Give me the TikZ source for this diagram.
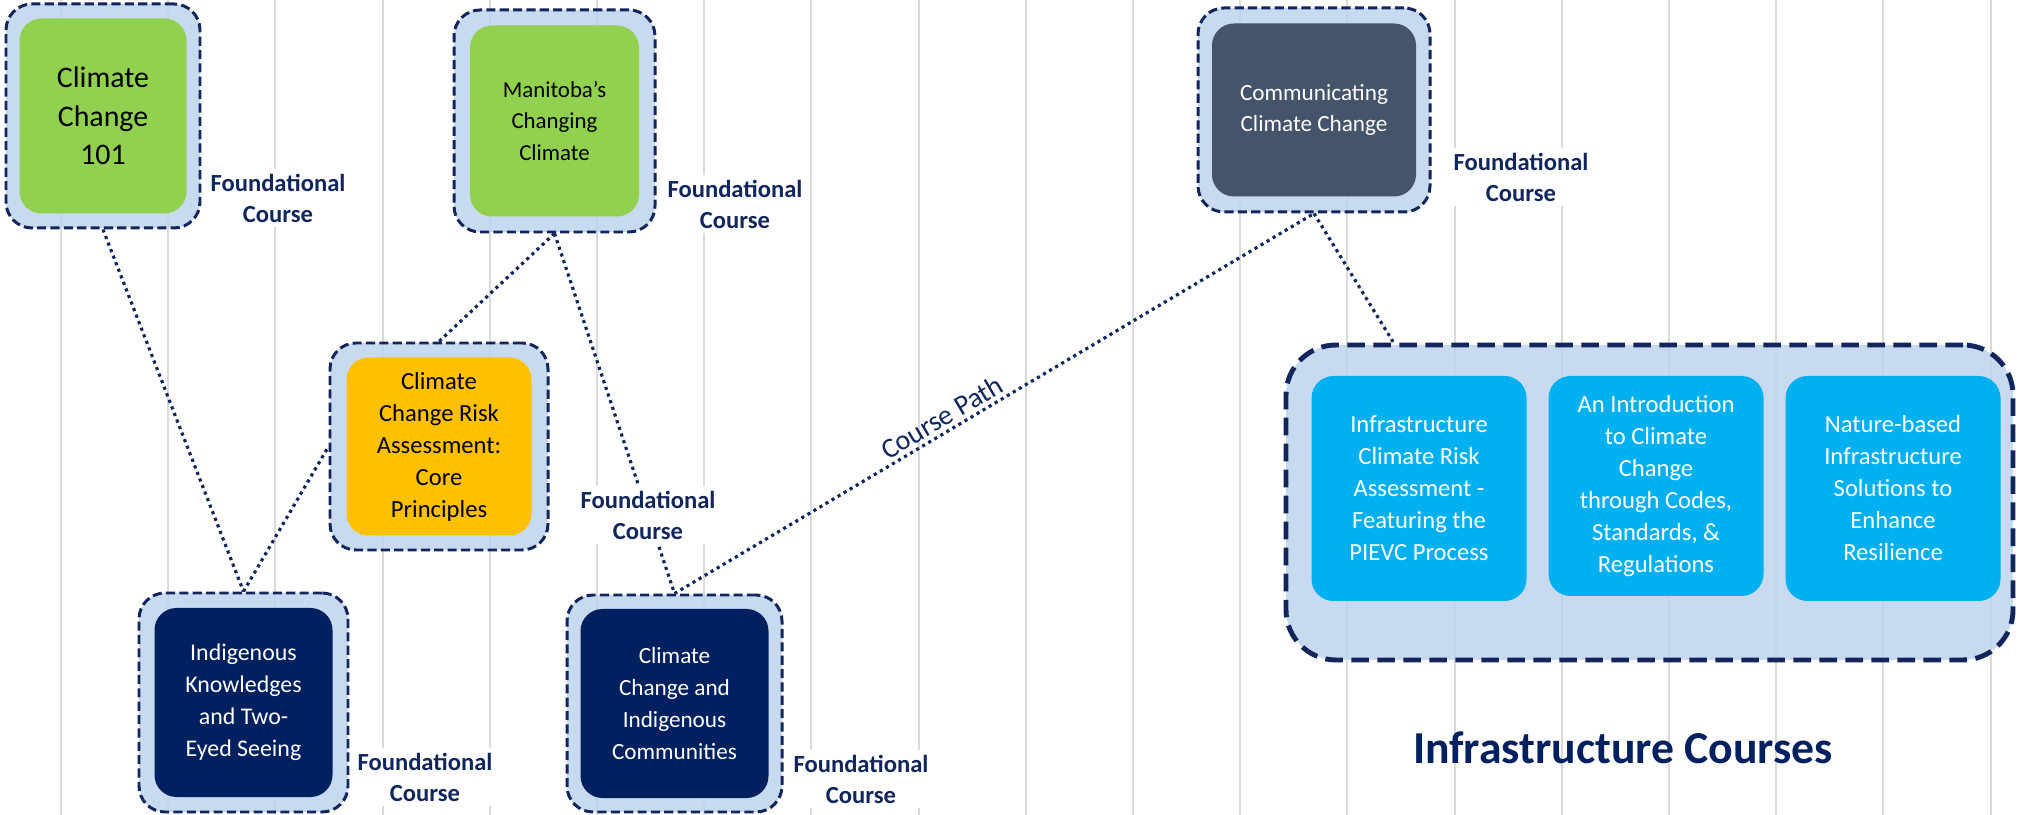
\documentclass[tikz,border=0pt]{standalone}
\usepackage{fontspec}
\setmainfont{Carlito}
\usetikzlibrary{positioning}

\definecolor{ringblue}{RGB}{190,212,238}
\definecolor{navy}{RGB}{18,38,92}
\definecolor{leafgreen}{RGB}{146,208,80}
\definecolor{amber}{RGB}{255,192,0}
\definecolor{deepnavy}{RGB}{0,32,96}
\definecolor{slate}{RGB}{68,84,106}
\definecolor{skyblue}{RGB}{0,176,240}
\definecolor{gridgrey}{RGB}{218,218,218}

\begin{document}
\begin{tikzpicture}
    [
        ring_node/.style={rectangle, rounded corners=2.6mm, draw=navy, fill=ringblue, fill opacity=0.85, line width=0.85pt, dash pattern=on 2.6pt off 1.2pt},
        course_node/.style={rectangle, rounded corners=2.2mm, align=center, inner sep=0pt},
        found_label/.style={align=center, fill=white, text=navy, font=\bfseries\fontsize{7}{8.8}\selectfont, inner sep=1.5pt},
        path_line/.style={draw=navy, line width=0.9pt, dash pattern=on 0.9pt off 1.1pt},
    ]
        \fill[white] (0,0) rectangle (20.21,-8.15);
        \useasboundingbox (0,0) rectangle (20.21,-8.15);
        % background rules
        \foreach \i in {0,...,18}
            \draw[gridgrey, line width=0.55pt] ({0.61+1.072*\i},0) -- ({0.61+1.072*\i},-8.15);

        % foundational courses
        \node[ring_node, minimum width=19.4mm, minimum height=22.4mm] (cc101) at (1.03,-1.16) {};
        \node[course_node, fill=leafgreen, minimum width=16.7mm, minimum height=19.5mm, font=\fontsize{8.5}{11}\selectfont] (cc101_txt) at (cc101) {Climate\\Change\\101};
        \node[ring_node, minimum width=20.1mm, minimum height=22.2mm] (manitoba) at (5.545,-1.21) {};
        \node[course_node, fill=leafgreen, minimum width=16.9mm, minimum height=19.1mm, font=\fontsize{6.5}{9}\selectfont] (manitoba_txt) at (manitoba) {Manitoba's\\Changing\\Climate};
        \node[ring_node, minimum width=21.8mm, minimum height=20.7mm] (risk) at (4.39,-4.465) {};
        \node[course_node, fill=amber, minimum width=18.5mm, minimum height=17.8mm, font=\fontsize{7}{9.1}\selectfont] (risk_txt) at (risk) {Climate\\Change Risk\\Assessment:\\Core\\Principles};
        \node[ring_node, minimum width=20.9mm, minimum height=21.9mm] (twoeyed) at (2.435,-7.025) {};
        \node[course_node, fill=deepnavy, text=white, minimum width=17.8mm, minimum height=18.9mm, font=\fontsize{6.8}{9.1}\selectfont] (twoeyed_txt) at (twoeyed) {Indigenous\\Knowledges\\and Two-\\Eyed Seeing};
        \node[ring_node, minimum width=21.5mm, minimum height=21.7mm] (indig) at (6.745,-7.035) {};
        \node[course_node, fill=deepnavy, text=white, minimum width=18.8mm, minimum height=18.9mm, font=\fontsize{6.6}{9.1}\selectfont] (indig_txt) at (indig) {Climate\\Change and\\Indigenous\\Communities};
        \node[ring_node, minimum width=23.2mm, minimum height=20.4mm] (comm) at (13.14,-1.10) {};
        \node[course_node, fill=slate, text=white, minimum width=20.4mm, minimum height=17.3mm, font=\fontsize{6.6}{8.8}\selectfont] (comm_txt) at (comm) {Communicating\\Climate Change};

        % infrastructure group
        \node[ring_node, rounded corners=5mm, line width=1.4pt, dash pattern=on 5pt off 2.4pt, minimum width=72.7mm, minimum height=31.5mm] (infra) at (16.495,-5.025) {};
        \node[course_node, fill=skyblue, text=white, minimum width=21.5mm, minimum height=22.5mm, font=\fontsize{7}{9.1}\selectfont] (infra1) at (14.19,-4.885) {Infrastructure\\Climate Risk\\Assessment -\\Featuring the\\PIEVC Process};
        \node[course_node, fill=skyblue, text=white, minimum width=21.5mm, minimum height=22mm, font=\fontsize{7}{9.1}\selectfont] (infra2) at (16.56,-4.86) {An Introduction\\to Climate\\Change\\through Codes,\\Standards, \&\\Regulations};
        \node[course_node, fill=skyblue, text=white, minimum width=21.5mm, minimum height=22.5mm, font=\fontsize{7}{9.1}\selectfont] (infra3) at (18.93,-4.885) {Nature-based\\Infrastructure\\Solutions to\\Enhance\\Resilience};
        \node[text=deepnavy, font=\bfseries\fontsize{13}{15}\selectfont] (infra_title) at (16.23,-7.48) {Infrastructure Courses};

        % course paths
        \draw[path_line] (cc101.south) -- (twoeyed.north) ;
        \draw[path_line] (manitoba.south) -- (risk.north) ;
        \draw[path_line] (manitoba.south) -- (indig.north) ;
        \draw[path_line] (twoeyed.north) -- (risk.west) ;
        \draw[path_line] (indig.north) -- node[pos=0.43, above, sloped, inner sep=1pt, text=navy, font=\fontsize{8}{9}\selectfont] (path_txt) {Course Path} (comm.south) ;
        \draw[path_line] (comm.south) -- (infra.148) ;

        % labels
        \node[found_label] (cc101_lbl) at (2.78,-1.98) {Foundational\\Course};
        \node[found_label] (manitoba_lbl) at (7.35,-2.04) {Foundational\\Course};
        \node[found_label] (risk_lbl) at (6.48,-5.15) {Foundational\\Course};
        \node[found_label] (twoeyed_lbl) at (4.25,-7.77) {Foundational\\Course};
        \node[found_label] (indig_lbl) at (8.61,-7.79) {Foundational\\Course};
        \node[found_label] (comm_lbl) at (15.21,-1.77) {Foundational\\Course};
    \end{tikzpicture}
\end{document}
